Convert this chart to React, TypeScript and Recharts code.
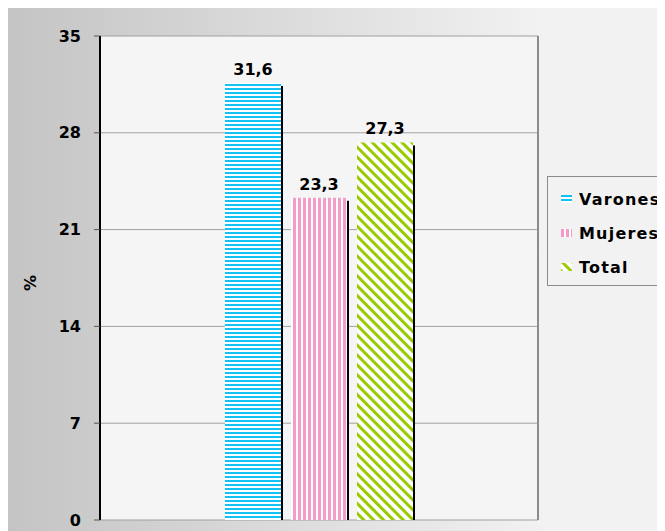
import React from 'react';
import { BarChart, Bar, XAxis, YAxis, CartesianGrid, LabelList } from 'recharts';

const categories = [''];
const varonesValues = [31.6];
const mujeresValues = [23.3];
const totalValues = [27.3];
const yTicks = [0, 7, 14, 21, 28, 35];
const edgeTicks = [0, 1];
const seriesNames = ['Varones', 'Mujeres', 'Total'];

const data = categories.map((c, i) => ({
  name: c,
  Varones: varonesValues[i],
  Mujeres: mujeresValues[i],
  Total: totalValues[i],
}));

const FONT = '"DejaVu Sans", Verdana, sans-serif';
const CYAN = '#12c2f2';
const PINK = '#f59ac9';
const GREEN = '#99cc00';

const patternIds: Record<string, string> = {
  Varones: 'pat-varones',
  Mujeres: 'pat-mujeres',
  Total: 'pat-total',
};

const Patterns = ({ prefix }: { prefix: string }) => (
  <defs>
    <pattern id={`${prefix}pat-varones`} patternUnits="userSpaceOnUse" width="4" height="4">
      <rect x="0" y="0" width="4" height="4" fill="#ffffff" />
      <rect x="0" y="0" width="4" height="2" fill={CYAN} />
    </pattern>
    <pattern id={`${prefix}pat-mujeres`} patternUnits="userSpaceOnUse" width="5" height="5">
      <rect x="0" y="0" width="5" height="5" fill="#ffffff" />
      <rect x="0" y="0" width="3" height="5" fill={PINK} />
    </pattern>
    <pattern
      id={`${prefix}pat-total`}
      patternUnits="userSpaceOnUse"
      width="7"
      height="7"
      patternTransform="rotate(-45)"
    >
      <rect x="0" y="0" width="7" height="7" fill="#ffffff" />
      <rect x="0" y="0" width="3" height="7" fill={GREEN} />
    </pattern>
  </defs>
);

const ShadowBar = (props: any) => {
  const { x, y, width, height, fill } = props;
  if (height <= 0) return null;
  return (
    <g>
      <rect x={x} y={y} width={width} height={height} fill={fill} />
      <rect x={x + width} y={y + 3} width={2} height={Math.max(0, height - 3)} fill="#000" />
    </g>
  );
};

const EmptyTick = () => <g />;

const fmt = (v: any) => String(v).replace('.', ',');

const LegendBox = () => (
  <div
    style={{
      position: 'absolute',
      left: 539,
      top: 168,
      border: '1px solid #8c8c8c',
      background: '#f2f2f2',
      width: 130,
      height: 110,
      boxSizing: 'border-box',
      padding: '5px 0 0 13px',
      fontFamily: FONT,
      fontWeight: 'bold',
      fontSize: 16,
      color: '#000',
      letterSpacing: 1.2,
    }}
  >
    {seriesNames.map((n) => (
      <div key={n} style={{ display: 'flex', alignItems: 'center', height: 34 }}>
        <svg width={12} height={8} style={{ marginRight: 6 }}>
          <Patterns prefix="lg-" />
          <rect x={0} y={0} width={11} height={8} fill={`url(#lg-${patternIds[n]})`} />
        </svg>
        <span>{n}</span>
      </div>
    ))}
  </div>
);

const PercentLabel = (props: any) => {
  const vb = props.viewBox || {};
  const cx = vb.x + 2;
  const cy = vb.y + vb.height / 2 + 5;
  return (
    <text
      x={cx}
      y={cy}
      transform={`rotate(-90, ${cx}, ${cy})`}
      textAnchor="middle"
      dominantBaseline="central"
      fontFamily={FONT}
      fontWeight="bold"
      fontSize={16}
      fill="#000"
    >
      %
    </text>
  );
};

export default function App() {
  return (
    <div
      style={{
        position: 'relative',
        width: 657,
        height: 523,
        overflow: 'hidden',
        background: 'linear-gradient(to right, #c4c4c4 0%, #f2f2f2 82%, #f2f2f2 100%)',
      }}
    >
      <BarChart
        width={657}
        height={523}
        data={data}
        margin={{ top: 28, right: 126, bottom: 3, left: 20 }}
        barSize={56}
        barGap={10}
      >
        <Patterns prefix="" />
        <CartesianGrid
          horizontal={true}
          vertical={false}
          fill="#f5f5f5"
          stroke="#a0a0a0"
          strokeWidth={1}
        />
        <XAxis dataKey="name" hide />
        <XAxis
          xAxisId="edge"
          type="number"
          domain={[0, 1]}
          allowDataOverflow={true}
          ticks={edgeTicks}
          tick={<EmptyTick />}
          tickSize={7}
          tickLine={{ stroke: '#333', strokeWidth: 1 }}
          axisLine={{ stroke: '#555', strokeWidth: 2 }}
          height={8}
        />
        <YAxis
          domain={[0, 35]}
          ticks={yTicks}
          interval={0}
          width={72}
          tickSize={6}
          tickMargin={13}
          tickLine={{ stroke: '#555' }}
          axisLine={{ stroke: '#000', strokeWidth: 2 }}
          tick={{ fill: '#000', fontFamily: FONT, fontWeight: 'bold', fontSize: 16 }}
          label={<PercentLabel />}
        />
        <YAxis
          yAxisId="border"
          orientation="right"
          type="number"
          domain={[0, 35]}
          allowDataOverflow={true}
          ticks={yTicks}
          width={1}
          tick={<EmptyTick />}
          tickLine={false}
          axisLine={{ stroke: '#8c8c8c', strokeWidth: 2 }}
        />
        {seriesNames.map((n) => (
          <Bar
            key={n}
            dataKey={n}
            fill={`url(#${patternIds[n]})`}
            shape={<ShadowBar />}
            isAnimationActive={false}
          >
            <LabelList
              dataKey={n}
              position="top"
              offset={8}
              formatter={fmt}
              fill="#000"
              fontFamily={FONT}
              fontWeight="bold"
              fontSize={16}
            />
          </Bar>
        ))}
      </BarChart>
      <LegendBox />
    </div>
  );
}
